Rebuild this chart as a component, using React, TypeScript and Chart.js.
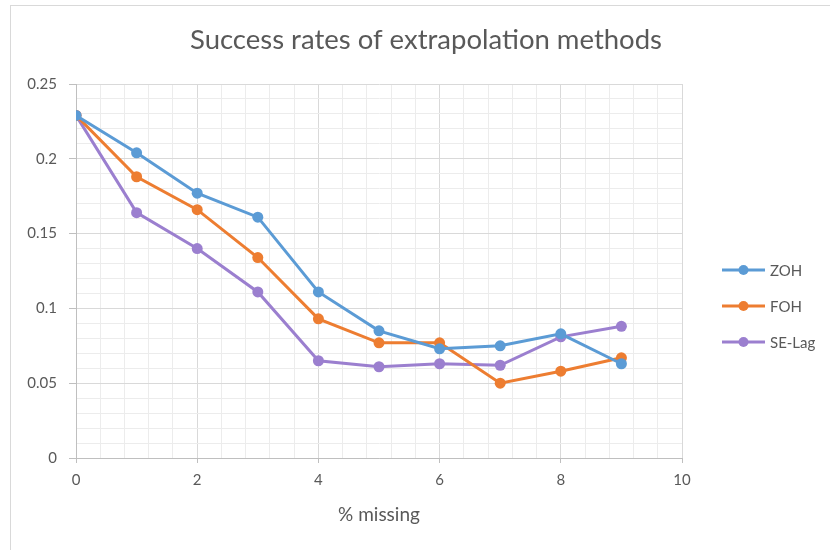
import React, { useEffect, useRef } from "react";
import { Chart, registerables } from "chart.js";

Chart.register(...registerables);

// ---- data ----
const xValues = [0, 1, 2, 3, 4, 5, 6, 7, 8, 9];
const zohValues = [0.229, 0.204, 0.177, 0.161, 0.111, 0.085, 0.073, 0.075, 0.083, 0.063];
const fohValues = [0.229, 0.188, 0.166, 0.134, 0.093, 0.077, 0.077, 0.05, 0.058, 0.067];
const seLagValues = [0.229, 0.164, 0.14, 0.111, 0.065, 0.061, 0.063, 0.062, 0.081, 0.088];
const seriesNames = ["ZOH", "FOH", "SE-Lag"];
const seriesColors = ["#5B9BD5", "#ED7D31", "#9B7FCF"];
const xMajorTicks = [0, 2, 4, 6, 8, 10];
const xTickLabels = ["0", "2", "4", "6", "8", "10"];
const yMajorTicks = [0, 0.05, 0.1, 0.15, 0.2, 0.25];
const yTickLabels = ["0", "0.05", "0.1", "0.15", "0.2", "0.25"];
const xMinorPerMajor = 5;
const yMinorPerMajor = 5;
const titleText = "Success rates of extrapolation methods";
const xAxisTitle = "% missing";

const FONT = "Lato";
const TEXT_COLOR = "#595959";

function buildTicks(majors: number[], minorCount: number) {
  const ticks: any[] = [];
  for (let i = 0; i < majors.length - 1; i++) {
    const a = majors[i];
    const b = majors[i + 1];
    for (let j = 0; j < minorCount; j++) {
      ticks.push({ value: a + ((b - a) * j) / minorCount, major: j === 0 });
    }
  }
  ticks.push({ value: majors[majors.length - 1], major: true });
  return ticks;
}

function labelFor(value: number, majors: number[], labels: string[]) {
  for (let k = 0; k < majors.length; k++) {
    if (Math.abs(majors[k] - value) < 1e-9) return labels[k];
  }
  return "";
}

const legendPlugin = {
  id: "customLegend",
  afterDraw(chart: any) {
    const { ctx, chartArea } = chart;
    const startX = chartArea.right + 40;
    const midY = (chartArea.top + chartArea.bottom) / 2 + 35;
    const gap = 36;
    const n = chart.data.datasets.length;
    ctx.save();
    chart.data.datasets.forEach((ds: any, i: number) => {
      const y = midY + (i - (n - 1) / 2) * gap;
      ctx.strokeStyle = ds.borderColor;
      ctx.lineWidth = 3;
      ctx.beginPath();
      ctx.moveTo(startX, y);
      ctx.lineTo(startX + 43, y);
      ctx.stroke();
      ctx.fillStyle = ds.borderColor;
      ctx.beginPath();
      ctx.arc(startX + 21.5, y, 5, 0, Math.PI * 2);
      ctx.fill();
      ctx.fillStyle = TEXT_COLOR;
      ctx.font = `15px ${FONT}`;
      ctx.textBaseline = "middle";
      ctx.textAlign = "left";
      ctx.fillText(ds.label, startX + 48, y + 1);
    });
    ctx.restore();
  },
};

export default function App() {
  const canvasRef = useRef<HTMLCanvasElement | null>(null);

  useEffect(() => {
    if (!canvasRef.current) return;
    const allValues = [zohValues, fohValues, seLagValues];
    const chart = new Chart(canvasRef.current, {
      type: "line",
      data: {
        datasets: allValues.map((vals, i) => ({
          label: seriesNames[i],
          data: xValues.map((x, k) => ({ x, y: vals[k] })),
          borderColor: seriesColors[i],
          backgroundColor: seriesColors[i],
          pointBackgroundColor: seriesColors[i],
          pointBorderColor: seriesColors[i],
          borderWidth: 3,
          pointRadius: 5.5,
          pointBorderWidth: 0,
          tension: 0,
          fill: false,
          xAxisID: "x",
          yAxisID: "y",
        })),
      },
      options: {
        animation: false,
        responsive: false,
        layout: { padding: { left: 22, right: 0, top: 0, bottom: 0 } },
        plugins: {
          legend: { display: false },
          tooltip: { enabled: false },
          title: {
            display: true,
            text: titleText,
            color: TEXT_COLOR,
            font: { family: FONT, size: 27.5, weight: "normal" },
            padding: { top: 24, bottom: 27 },
          },
        },
        scales: {
          x: {
            type: "linear",
            min: 0,
            max: 10,
            afterBuildTicks: (scale: any) => {
              scale.ticks = buildTicks(xMajorTicks, xMinorPerMajor);
            },
            afterFit: (scale: any) => {
              scale.height = 92;
            },
            ticks: {
              autoSkip: false,
              maxRotation: 0,
              padding: 8,
              color: TEXT_COLOR,
              font: { family: FONT, size: 15 },
              callback: (value: any) => labelFor(Number(value), xMajorTicks, xTickLabels),
            },
            grid: {
              color: (c: any) => (c.tick && c.tick.major ? "#d9d9d9" : "#ececec"),
              tickColor: (c: any) => (c.tick && c.tick.major ? "#bfbfbf" : "rgba(0,0,0,0)"),
              tickLength: 5,
              lineWidth: 1,
            },
            border: { color: "#bfbfbf", width: 1 },
            title: {
              display: true,
              text: xAxisTitle,
              color: TEXT_COLOR,
              font: { family: FONT, size: 19 },
              padding: { top: 0, bottom: 24 },
            },
          },
          y: {
            type: "linear",
            position: "left",
            min: 0,
            max: 0.25,
            afterBuildTicks: (scale: any) => {
              scale.ticks = buildTicks(yMajorTicks, yMinorPerMajor);
            },
            afterFit: (scale: any) => {
              scale.width = 54;
            },
            ticks: {
              autoSkip: false,
              padding: 12,
              color: TEXT_COLOR,
              font: { family: FONT, size: 15 },
              callback: (value: any) => labelFor(Number(value), yMajorTicks, yTickLabels),
            },
            grid: {
              color: (c: any) => (c.tick && c.tick.major ? "#d9d9d9" : "#ececec"),
              tickColor: (c: any) => (c.tick && c.tick.major ? "#bfbfbf" : "rgba(0,0,0,0)"),
              tickLength: 7,
              lineWidth: 1,
            },
            border: { color: "#bfbfbf", width: 1 },
          },
          legendSpace: {
            type: "linear",
            position: "right",
            display: true,
            afterFit: (scale: any) => {
              scale.width = 148;
            },
            ticks: { display: false },
            grid: { display: false, drawTicks: false },
            border: { display: false },
          },
        },
      } as any,
      plugins: [legendPlugin],
    });
    return () => chart.destroy();
  }, []);

  return (
    <div style={{ position: "absolute", left: 0, top: 0, width: 830, height: 550, background: "#ffffff" }}>
      <canvas ref={canvasRef} width={830} height={550} style={{ display: "block" }} />
      <div
        style={{
          position: "absolute",
          left: 10,
          top: 5,
          right: 0,
          bottom: 0,
          borderTop: "1px solid #d9d9d9",
          borderLeft: "1px solid #d9d9d9",
          pointerEvents: "none",
        }}
      />
    </div>
  );
}
